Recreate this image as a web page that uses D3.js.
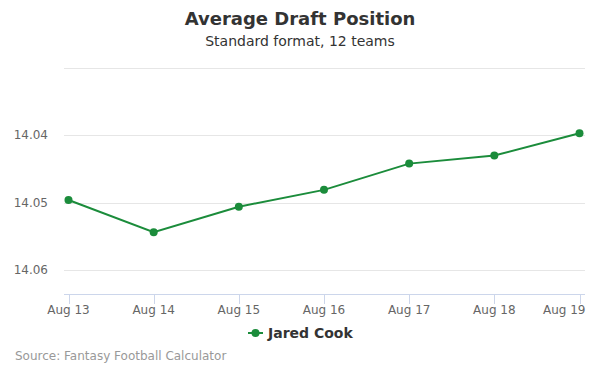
<!DOCTYPE html>
<html>
<head>
<meta charset="utf-8">
<script src="https://cdn.jsdelivr.net/npm/d3@7"></script>
<style>
  body { margin: 0; background: #fff; }
  text { font-family: "DejaVu Sans", sans-serif; }
</style>
</head>
<body>
<div id="chart"></div>
<script>
// data
var dates = ["Aug 13", "Aug 14", "Aug 15", "Aug 16", "Aug 17", "Aug 18", "Aug 19"];
var adp = [14.0496, 14.0544, 14.0506, 14.0481, 14.0442, 14.0430, 14.0397];
var yTicks = [14.04, 14.05, 14.06];
var gridTicks = [14.03, 14.04, 14.05, 14.06];
var playerName = "Jared Cook";

var width = 600, height = 375;
var green = "#1b8c3b";

var svg = d3.select("#chart").append("svg")
    .attr("width", width)
    .attr("height", height);

// title + subtitle
svg.append("text")
    .attr("x", 300).attr("y", 25)
    .attr("text-anchor", "middle")
    .style("font-size", "18px").style("font-weight", "bold")
    .attr("fill", "#333")
    .text("Average Draft Position");
svg.append("text")
    .attr("x", 300).attr("y", 46)
    .attr("text-anchor", "middle")
    .style("font-size", "14px")
    .attr("fill", "#333")
    .text("Standard format, 12 teams");

// scales: the axis is reversed, lower pick on top
var x = d3.scalePoint()
    .domain(dates)
    .range([68.5, 579.5]);

var y = d3.scaleLinear()
    .domain([14.03, 14.06])
    .range([68, 270]);

var plotLeft = 64, plotRight = 585, plotBottom = 294;

// gridlines
svg.append("g")
    .selectAll("line")
    .data(gridTicks)
    .enter()
    .append("line")
    .attr("x1", plotLeft).attr("x2", plotRight)
    .attr("y1", d => Math.round(y(d)) + 0.5)
    .attr("y2", d => Math.round(y(d)) + 0.5)
    .attr("stroke", "#e6e6e6");

// y labels
svg.append("g")
    .selectAll("text")
    .data(yTicks)
    .enter()
    .append("text")
    .attr("x", 48).attr("y", d => y(d) + 4)
    .attr("text-anchor", "end")
    .style("font-size", "12px")
    .attr("fill", "#666")
    .text(d => d.toFixed(2));

// x axis
var xAxis = svg.append("g");
xAxis.append("line")
    .attr("x1", plotLeft).attr("x2", plotRight)
    .attr("y1", plotBottom + 0.5).attr("y2", plotBottom + 0.5)
    .attr("stroke", "#ccd6eb");
xAxis.selectAll(".tick")
    .data(dates)
    .enter()
    .append("line")
    .attr("x1", d => Math.round(x(d)) + 0.5).attr("x2", d => Math.round(x(d)) + 0.5)
    .attr("y1", plotBottom).attr("y2", plotBottom + 10)
    .attr("stroke", "#ccd6eb");
xAxis.selectAll("text")
    .data(dates)
    .enter()
    .append("text")
    .attr("x", d => x(d))
    .attr("y", 314)
    .attr("text-anchor", (d, i) => i === dates.length - 1 ? "end" : "middle")
    .attr("dx", (d, i) => i === dates.length - 1 ? 6 : 0)
    .style("font-size", "12px")
    .attr("fill", "#666")
    .text(d => d);

// series line
var line = d3.line()
    .x((d, i) => x(dates[i]))
    .y(d => y(d));

svg.append("path")
    .datum(adp)
    .attr("d", line)
    .attr("fill", "none")
    .attr("stroke", green)
    .attr("stroke-width", 2);

svg.append("g")
    .selectAll("circle")
    .data(adp)
    .enter()
    .append("circle")
    .attr("cx", (d, i) => x(dates[i]))
    .attr("cy", d => y(d))
    .attr("r", 4)
    .attr("fill", green);

// legend
var legend = svg.append("g").attr("transform", "translate(248,333)");
legend.append("line")
    .attr("x1", 0).attr("x2", 15)
    .attr("y1", 0).attr("y2", 0)
    .attr("stroke", green).attr("stroke-width", 2);
legend.append("circle")
    .attr("cx", 7.5).attr("cy", 0).attr("r", 4)
    .attr("fill", green);
legend.append("text")
    .attr("x", 20).attr("y", 5)
    .style("font-size", "14px").style("font-weight", "bold")
    .attr("fill", "#333")
    .text(playerName);

// credits
svg.append("text")
    .attr("x", 15).attr("y", 360)
    .style("font-size", "12px")
    .attr("fill", "#999")
    .text("Source: Fantasy Football Calculator");
</script>
</body>
</html>
